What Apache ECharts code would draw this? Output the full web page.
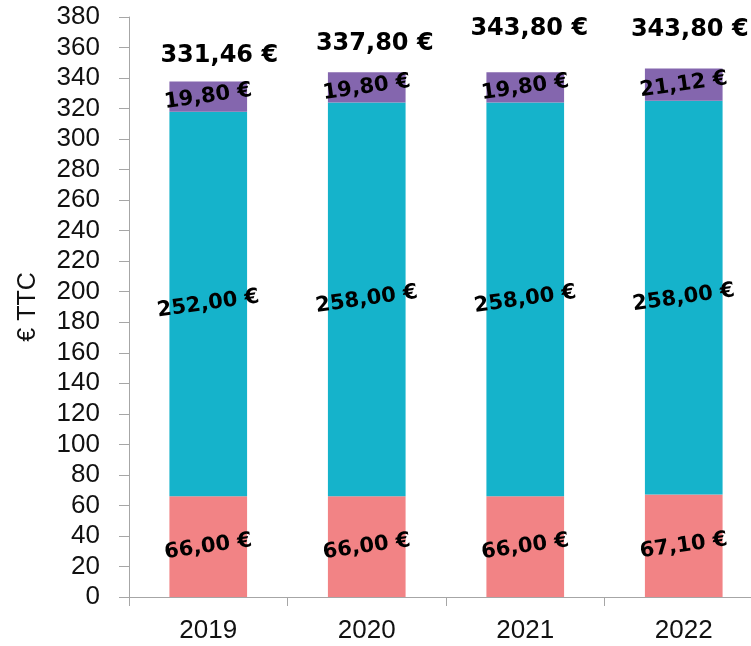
<!DOCTYPE html>
<html>
<head>
<meta charset="utf-8">
<script src="https://cdn.jsdelivr.net/npm/echarts@6/dist/echarts.min.js"></script>
<style>
  html, body { margin: 0; padding: 0; background: #fff; overflow: hidden; }
  #chart { width: 763px; height: 646px; }
</style>
</head>
<body>
<div id="chart"></div>
<script>
// data
var years = ['2019', '2020', '2021', '2022'];
var partA = [66.00, 66.00, 66.00, 67.10];      // pink, bottom
var partB = [252.00, 258.00, 258.00, 258.00];  // teal, middle
var partC = [19.80, 19.80, 19.80, 21.12];      // purple, top
var totalLabels = ['331,46 €', '337,80 €', '343,80 €', '343,80 €'];
var totalGap = [14, 16, 31, 27];
var totalShift = [11, 8, 4, 6];

var axisFont = '"Liberation Sans", sans-serif';
var boldFont = '"DejaVu Sans", sans-serif';

function euro(v) {
    return v.toFixed(2).replace('.', ',') + ' €';
}

var segLabel = {
    show: true,
    position: 'inside',
    rotate: 8,
    color: '#000',
    fontWeight: 'bold',
    fontSize: 21,
    fontFamily: boldFont,
    formatter: function (p) { return euro(p.value); }
};

var chart = echarts.init(document.getElementById('chart'));
var option = {
    animation: false,
    grid: { left: 129, top: 17, bottom: 49, right: 0 },
    xAxis: {
        type: 'category',
        data: years,
        axisLine: { lineStyle: { color: '#a6a6a6' } },
        axisTick: { show: true, length: 9, lineStyle: { color: '#a6a6a6' } },
        axisLabel: { color: '#111', fontSize: 26, fontFamily: axisFont, margin: 21 }
    },
    yAxis: {
        type: 'value',
        min: 0,
        max: 380,
        interval: 20,
        name: '€ TTC',
        nameLocation: 'middle',
        nameRotate: 90,
        nameGap: 88,
        nameTextStyle: { color: '#111', fontSize: 25, fontFamily: axisFont },
        axisLine: { show: true, lineStyle: { color: '#a6a6a6' } },
        axisTick: { show: true, length: 10, lineStyle: { color: '#a6a6a6' } },
        splitLine: { show: false },
        axisLabel: { color: '#111', fontSize: 26, fontFamily: axisFont, margin: 29 }
    },
    series: [
        {
            type: 'bar', stack: 'tot', data: partA, barWidth: '49%',
            itemStyle: { color: '#F28385' }, label: segLabel
        },
        {
            type: 'bar', stack: 'tot', data: partB,
            itemStyle: { color: '#15B3CB' }, label: segLabel
        },
        {
            type: 'bar', stack: 'tot', data: partC,
            itemStyle: { color: '#8466AE' }, label: segLabel
        },
        {
            // totals written above each bar
            type: 'bar', stack: 'tot',
            data: totalGap.map(function (g, i) {
                return { value: 0, label: { distance: g, offset: [totalShift[i], 0] } };
            }),
            itemStyle: { color: 'transparent' },
            label: {
                show: true,
                position: 'top',
                color: '#000',
                fontWeight: 'bold',
                fontSize: 24,
                fontFamily: boldFont,
                formatter: function (p) { return totalLabels[p.dataIndex]; }
            }
        }
    ]
};
chart.setOption(option);
</script>
</body>
</html>
